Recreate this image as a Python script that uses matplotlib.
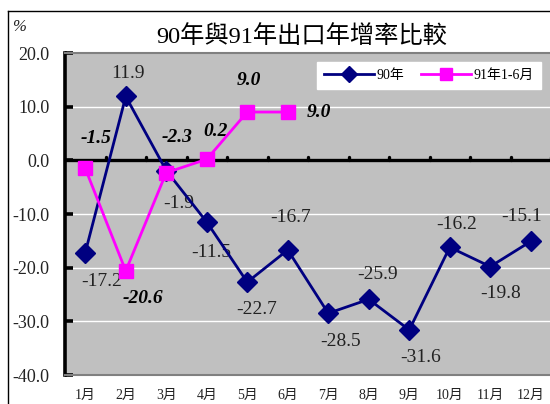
import matplotlib
matplotlib.use('Agg')
import matplotlib.pyplot as plt
from matplotlib.lines import Line2D

# ── Data ───────────────────────────────────────────────────────────────────────
months = ['1月', '2月', '3月', '4月', '5月', '6月',
          '7月', '8月', '9月', '10月', '11月', '12月']
growth_90 = [-17.2, 11.9, -1.9, -11.5, -22.7, -16.7,
             -28.5, -25.9, -31.6, -16.2, -19.8, -15.1]
growth_91 = [-1.5, -20.6, -2.3, 0.2, 9.0, 9.0]
yticks = [20, 10, 0, -10, -20, -30, -40]

# label offsets in pixels (dx, dy)
off_90 = [(16, -29), (2, 23), (12, -33), (5, -30), (9, -27), (3, 32),
          (12, -28), (9, 25), (11, -28), (7, 23), (10, -27), (-9, 25)]
off_91 = [(11, 30), (17, -28), (11, 35), (9, 28), (2, 32), (31, 0)]

serif = ['Liberation Serif', 'Noto Sans CJK TC']
plt.rcParams['font.family'] = serif

W, H = 550, 404
fig = plt.figure(figsize=(5.5, 4.04), dpi=100)
fig.patch.set_facecolor('white')

# outer chart frame (left and top edges visible)
fig.add_artist(Line2D([8 / W, 8 / W], [0, 1 - 11 / H], color='black', lw=1.0))
fig.add_artist(Line2D([8 / W, 1], [1 - 11 / H, 1 - 11 / H], color='black', lw=1.0))

left, right = 65 / W, 551 / W
top, bottom = 1 - 53 / H, 1 - 375 / H
ax = fig.add_axes([left, bottom, right - left, top - bottom])
ax.set_facecolor('#C0C0C0')

x = list(range(len(months)))
ax.set_xlim(-0.5, 11.5)
ax.set_ylim(-40, 20)

# grid
for v in yticks:
    if v not in (0, 20, -40):
        ax.axhline(v, color='white', lw=1.0, zorder=1)

# zero line with boundary bumps
ax.axhline(0, color='black', lw=2.4, zorder=2)
ax.vlines([i + 0.5 for i in x], 0, 0.6, color='black', lw=2.4,
          capstyle='round', zorder=2)

for s in ['top', 'bottom']:
    ax.spines[s].set_color('#808080')
    ax.spines[s].set_linewidth(1.5)
ax.spines['right'].set_visible(False)
ax.spines['left'].set_color('black')
ax.spines['left'].set_linewidth(2.6)

ax.set_yticks(yticks)
ax.set_yticklabels([f'{v:.1f}' for v in yticks], fontsize=13, color='#222222')
ax.tick_params(axis='y', direction='in', length=6, width=2.6, pad=11)
ax.set_xticks(x)
ax.set_xticklabels(months, fontsize=10, color='#222222')
ax.tick_params(axis='x', length=0, pad=10)

ax.plot(x, growth_90, color='#000080', lw=2, marker='D', markersize=10,
        label='90年', zorder=4, clip_on=False)
ax.plot(x[:len(growth_91)], growth_91, color='#FF00FF', lw=2, marker='s',
        markersize=10, label='91年1-6月', zorder=5, clip_on=False)

for xi, v, (dx, dy) in zip(x, growth_90, off_90):
    ax.annotate(f'{v:.1f}', (xi, v), xytext=(dx, dy), textcoords='offset pixels',
                ha='center', va='center', fontsize=14, color='#222222')
for xi, v, (dx, dy) in zip(x, growth_91, off_91):
    ax.annotate(f'{v:.1f}', (xi, v), xytext=(dx, dy), textcoords='offset pixels',
                ha='center', va='center', fontsize=14, color='black',
                fontweight='bold', fontstyle='italic')

leg = ax.legend(loc='upper right', bbox_to_anchor=(0.979, 0.972), ncol=2,
                fontsize=10, frameon=True, fancybox=False, borderaxespad=0,
                handlelength=3.6, columnspacing=1.2, handletextpad=0.2,
                borderpad=0.5, markerscale=0.8)
leg.get_frame().set_facecolor('white')
leg.get_frame().set_edgecolor('white')
leg.get_frame().set_alpha(1)

fig.text(302 / W, 1 - 36 / H, '90年與91年出口年增率比較', ha='center', va='center',
         fontsize=17.5, family=serif, color='black')
fig.text(12 / W, 1 - 27 / H, '%', ha='left', va='center', fontsize=12,
         fontstyle='italic', color='#222222')

fig.savefig('out.png', dpi=100)
